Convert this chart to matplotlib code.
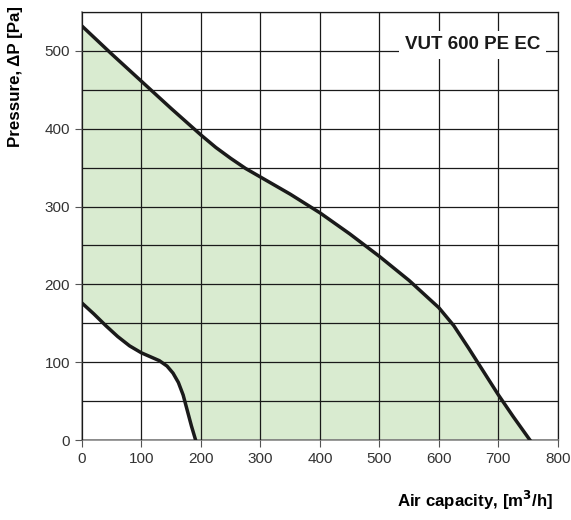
import numpy as np
import matplotlib.pyplot as plt

plt.rcParams['font.family'] = ['Liberation Sans', 'DejaVu Sans']

# max curve
flow_max = [0, 50, 100, 150, 200, 225, 250, 275, 300, 350, 400, 450, 500, 550, 600, 625, 650, 675, 700, 725, 753]
pres_max = [532, 496, 461, 426, 392, 376, 362, 349, 338, 316, 292, 265, 236, 205, 170, 147, 118, 88, 58, 30, 0]

# min curve
flow_min = [0, 20, 40, 60, 80, 100, 115, 130, 143, 153, 162, 170, 177, 184, 191]
pres_min = [176, 162, 147, 133, 121, 112, 107, 102, 95, 86, 74, 58, 38, 18, 0]

title = "VUT 600 PE EC"

fig = plt.figure(figsize=(5.71, 5.2), dpi=100)
ax = fig.add_axes([0.1436, 0.1538, 0.8334, 0.823])

# green working area between the curves
xx = np.union1d(flow_max, flow_min)
ax.fill_between(xx, np.interp(xx, flow_min, pres_min, right=0),
                np.interp(xx, flow_max, pres_max), color='#d9ebd0', lw=0, zorder=1)

ax.plot(flow_max, pres_max, color='#1a1a1a', lw=2.5, zorder=3, solid_joinstyle='round')
ax.plot(flow_min, pres_min, color='#1a1a1a', lw=2.5, zorder=3, solid_joinstyle='round')

ax.set_xlim(0, 800)
ax.set_ylim(0, 550)
ax.set_xticks(range(0, 801, 100))
ax.set_yticks(range(0, 501, 100))
ax.set_yticks(range(50, 551, 100), minor=True)
ax.grid(True, which='both', color='#1a1a1a', lw=0.9, zorder=2)
ax.set_axisbelow(False)
for s in ['left', 'bottom']:
    ax.spines[s].set_color('#8a8a8a')
    ax.spines[s].set_linewidth(1.2)
for s in ['top', 'right']:
    ax.spines[s].set_color('#1a1a1a')
    ax.spines[s].set_linewidth(0.9)
ax.tick_params(which='major', length=5, color='#555555', labelsize=11, labelcolor='#333333')
ax.tick_params(which='minor', length=0)

ax.text(657, 508, title, ha='center', va='center', fontsize=13.5, fontweight='bold',
        color='#1a1a1a', bbox=dict(facecolor='white', edgecolor='none', pad=4), zorder=4)

fig.text(0.027, 0.852, 'Pressure, ΔP [Pa]', rotation=90, ha='center', va='center',
         fontsize=12.2, fontweight='bold')
fig.text(0.969, 0.038, 'Air capacity, [m$^\\mathbf{3}$/h]', ha='right', va='center',
         fontsize=12.2, fontweight='bold')

fig.savefig('out.png', dpi=100)
